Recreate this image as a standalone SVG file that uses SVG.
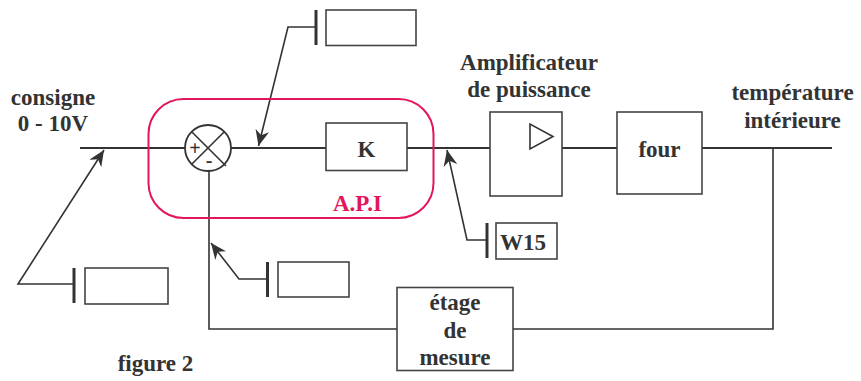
<svg xmlns="http://www.w3.org/2000/svg" width="861" height="381" viewBox="0 0 861 381">
<defs>
<style>
.ln{fill:none;stroke:#333;stroke-width:2}
.cl{fill:none;stroke:#333;stroke-width:1.6}
.bx{fill:#fff;stroke:#444;stroke-width:1.6}
.bar{stroke:#333;stroke-width:3}
.t{font-family:"Liberation Serif","Times New Roman",serif;font-weight:bold;font-size:23px;fill:#333;text-anchor:middle}
.s{font-family:"Liberation Serif","Times New Roman",serif;font-weight:bold;font-size:20px;fill:#333;text-anchor:middle}
.api{fill:none;stroke:#e3165b;stroke-width:2}
</style>
<marker id="ah" markerUnits="userSpaceOnUse" markerWidth="18" markerHeight="14" viewBox="0 0 18 14" refX="16" refY="7" orient="auto">
<path d="M0,0 L16,7 L0,14 L5,7 z" fill="#333"/>
</marker>
</defs>
<rect width="861" height="381" fill="#fff"/>

<g id="connectors">
<line class="ln" x1="80" y1="148" x2="185" y2="148"/>
<line class="ln" x1="231" y1="148" x2="326" y2="148"/>
<line class="ln" x1="407" y1="148" x2="490" y2="148"/>
<line class="ln" x1="562" y1="148" x2="617" y2="148"/>
<line class="ln" x1="702" y1="148" x2="832" y2="148"/>
<polyline class="cl" points="209,171 209,329 397,329"/>
<polyline class="cl" points="513,329 773,329 773,148"/>
<polyline class="cl" points="316,27 288,27 258.5,146" marker-end="url(#ah)"/>
<polyline class="cl" points="74,284 18,284 104,150" marker-end="url(#ah)"/>
<polyline class="cl" points="267,279 239,279 211,243" marker-end="url(#ah)"/>
<polyline class="cl" points="487,240 467,240 447,150" marker-end="url(#ah)"/>
</g>

<g id="consigne">
<text class="t" x="53" y="105">consigne</text>
<text class="t" x="53" y="131">0 - 10V</text>
</g>

<g id="api">
<rect class="api" x="148.5" y="99" width="285" height="119" rx="35" ry="35"/>
<text class="t" x="357.5" y="211" style="fill:#e3165b">A.P.I</text>
</g>

<g id="sum">
<circle cx="208" cy="148" r="23" fill="#fff" stroke="#333" stroke-width="1.8"/>
<line x1="191.7" y1="131.7" x2="226" y2="166" stroke="#333" stroke-width="1.6"/>
<line x1="224.3" y1="131.7" x2="191.7" y2="164.3" stroke="#333" stroke-width="1.6"/>
<text class="s" x="195" y="155">+</text>
<text class="s" x="209" y="167">-</text>
</g>

<g id="K">
<rect class="bx" x="326" y="123" width="81" height="47.5"/>
<text class="t" x="366.5" y="157">K</text>
</g>

<g id="ampli">
<text class="t" x="529" y="70">Amplificateur</text>
<text class="t" x="529" y="97">de puissance</text>
<rect class="bx" x="490" y="112" width="72" height="84"/>
<polygon points="530,124 530,149 553,136.5" fill="none" stroke="#333" stroke-width="1.6"/>
</g>

<g id="four">
<rect class="bx" x="617" y="112" width="85" height="82"/>
<text class="t" x="659.5" y="157">four</text>
</g>

<g id="temperature">
<text class="t" x="792.5" y="100">température</text>
<text class="t" x="792.5" y="128">intérieure</text>
</g>

<g id="etage">
<rect class="bx" x="397" y="287.5" width="116" height="83"/>
<text class="t" x="455" y="310">étage</text>
<text class="t" x="455" y="338">de</text>
<text class="t" x="455" y="365">mesure</text>
</g>

<g id="box-top">
<line class="bar" x1="316" y1="10" x2="316" y2="45"/>
<rect class="bx" x="326" y="10" width="90" height="35.5"/>
</g>

<g id="box-left">
<line class="bar" x1="74" y1="268" x2="74" y2="303"/>
<rect class="bx" x="85" y="268" width="83" height="36"/>
</g>

<g id="box-mid">
<line class="bar" x1="267.5" y1="262" x2="267.5" y2="297"/>
<rect class="bx" x="278" y="262" width="71" height="35"/>
</g>

<g id="box-w15">
<line class="bar" x1="487" y1="223" x2="487" y2="258"/>
<rect class="bx" x="496" y="223" width="61" height="36"/>
<text class="t" x="523" y="250">W15</text>
</g>

<g id="caption">
<text class="t" x="155.5" y="371">figure 2</text>
</g>
</svg>
